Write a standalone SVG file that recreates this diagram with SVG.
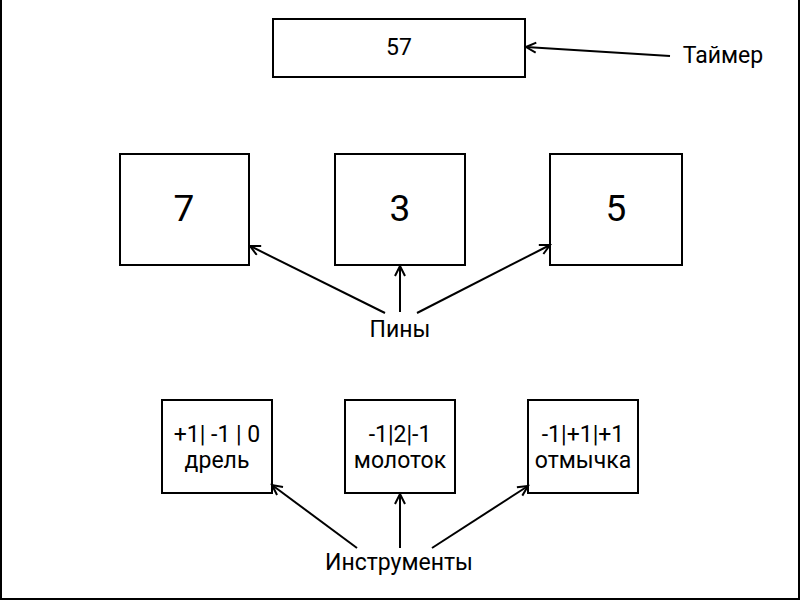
<svg xmlns="http://www.w3.org/2000/svg" width="801" height="601" viewBox="0 0 801 601">
<style>
.box{fill:#fff;stroke:#000;stroke-width:2}
.t{font-family:Roboto,"Liberation Sans",sans-serif;font-size:23px;fill:#000;text-anchor:middle}
.big{font-size:37px}
.c{stroke:#000;stroke-width:2;fill:none;marker-end:url(#arr)}
</style>
<defs>
<marker id="arr" markerUnits="userSpaceOnUse" markerWidth="14" markerHeight="14" refX="11" refY="6" orient="auto">
<path d="M1,1 L11,6 L1,11" fill="none" stroke="#000" stroke-width="2"/>
</marker>
</defs>
<rect x="1" y="-10" width="798" height="609" fill="#fff" stroke="#000" stroke-width="2"/>
<g id="timer">
<rect class="box" x="273" y="19" width="252" height="58"/>
<text class="t" x="399" y="55">57</text>
</g>
<g id="timer-label"><text class="t" x="723" y="63">Таймер</text></g>
<g id="pin1"><rect class="box" x="120" y="154" width="129" height="111"/><text class="t big" x="184" y="221">7</text></g>
<g id="pin2"><rect class="box" x="335" y="154" width="130" height="111"/><text class="t big" x="400" y="221">3</text></g>
<g id="pin3"><rect class="box" x="550" y="154" width="132" height="111"/><text class="t big" x="616" y="221">5</text></g>
<g id="pins-label"><text class="t" x="400" y="337">Пины</text></g>
<g id="tool1"><rect class="box" x="162" y="400" width="110" height="93"/><text class="t" x="217" y="442">+1| -1 | 0</text><text class="t" x="217" y="468">дрель</text></g>
<g id="tool2"><rect class="box" x="345" y="400" width="110" height="93"/><text class="t" x="400" y="442">-1|2|-1</text><text class="t" x="400" y="468">молоток</text></g>
<g id="tool3"><rect class="box" x="528" y="400" width="110" height="93"/><text class="t" x="583" y="442">-1|+1|+1</text><text class="t" x="583" y="468">отмычка</text></g>
<g id="tools-label"><text class="t" x="399" y="570">Инструменты</text></g>
<g id="connectors">
<path class="c" d="M670,56 L526,47"/>
<path class="c" d="M385,313 L250,246"/>
<path class="c" d="M400,312 L400,266"/>
<path class="c" d="M417,313 L550,245"/>
<path class="c" d="M357,548 L272,485"/>
<path class="c" d="M400,548 L400,494"/>
<path class="c" d="M432,548 L528,486"/>
</g>
</svg>
